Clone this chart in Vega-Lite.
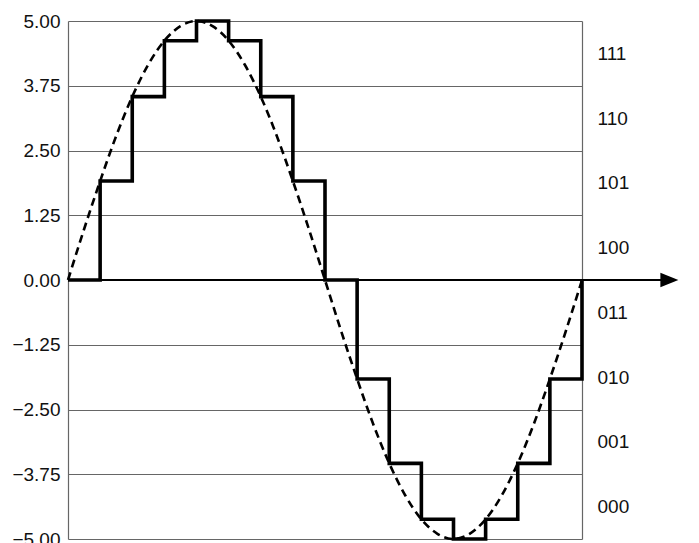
{
  "$schema": "https://vega.github.io/schema/vega-lite/v6.json",
  "width": 514,
  "height": 518,
  "autosize": {"type": "none"},
  "padding": {"left": 68, "top": 21, "right": 117, "bottom": 4},
  "background": "white",
  "config": {
    "view": {"stroke": null},
    "axis": {"labelFont": "Liberation Sans", "labelColor": "#111", "title": null}
  },
  "datasets": {
    "steps": [
      {"sample": 0, "level": 0},
      {"sample": 1, "level": 1.91},
      {"sample": 2, "level": 3.54},
      {"sample": 3, "level": 4.62},
      {"sample": 4, "level": 5},
      {"sample": 5, "level": 4.62},
      {"sample": 6, "level": 3.54},
      {"sample": 7, "level": 1.91},
      {"sample": 8, "level": 0},
      {"sample": 9, "level": -1.91},
      {"sample": 10, "level": -3.54},
      {"sample": 11, "level": -4.62},
      {"sample": 12, "level": -5},
      {"sample": 13, "level": -4.62},
      {"sample": 14, "level": -3.54},
      {"sample": 15, "level": -1.91},
      {"sample": 16, "level": 0}
    ],
    "wave": [
      {"t": 0, "v": 0}, {"t": 0.5, "v": 0.98}, {"t": 1, "v": 1.91}, {"t": 1.5, "v": 2.78},
      {"t": 2, "v": 3.54}, {"t": 2.5, "v": 4.16}, {"t": 3, "v": 4.62}, {"t": 3.5, "v": 4.9},
      {"t": 4, "v": 5}, {"t": 4.5, "v": 4.9}, {"t": 5, "v": 4.62}, {"t": 5.5, "v": 4.16},
      {"t": 6, "v": 3.54}, {"t": 6.5, "v": 2.78}, {"t": 7, "v": 1.91}, {"t": 7.5, "v": 0.98},
      {"t": 8, "v": 0}, {"t": 8.5, "v": -0.98}, {"t": 9, "v": -1.91}, {"t": 9.5, "v": -2.78},
      {"t": 10, "v": -3.54}, {"t": 10.5, "v": -4.16}, {"t": 11, "v": -4.62}, {"t": 11.5, "v": -4.9},
      {"t": 12, "v": -5}, {"t": 12.5, "v": -4.9}, {"t": 13, "v": -4.62}, {"t": 13.5, "v": -4.16},
      {"t": 14, "v": -3.54}, {"t": 14.5, "v": -2.78}, {"t": 15, "v": -1.91}, {"t": 15.5, "v": -0.98},
      {"t": 16, "v": 0}
    ]
  },
  "resolve": {"axis": {"y": "independent"}},
  "layer": [
    {
      "data": {"name": "wave"},
      "mark": {"type": "line", "interpolate": "monotone", "color": "black", "strokeWidth": 2.6, "strokeDash": [8, 5]},
      "encoding": {
        "x": {"field": "t", "type": "quantitative", "scale": {"domain": [0, 16], "nice": false}, "axis": null},
        "y": {
          "field": "v", "type": "quantitative",
          "scale": {"domain": [-5, 5], "nice": false, "zero": false},
          "axis": {
            "orient": "left",
            "values": [-5, -3.75, -2.5, -1.25, 0, 1.25, 2.5, 3.75, 5],
            "format": ".2f",
            "ticks": false,
            "labelPadding": 8,
            "labelFontSize": 19,
            "grid": true,
            "gridColor": "#666",
            "gridWidth": 1.2,
            "gridOpacity": 1,
            "domainColor": "#666",
            "domainWidth": 1.2
          }
        }
      }
    },
    {
      "data": {"values": [{}]},
      "mark": {"type": "rule", "color": "black", "strokeWidth": 2},
      "encoding": {
        "x": {"datum": 0, "type": "quantitative"},
        "x2": {"datum": 18.5},
        "y": {"datum": 0, "type": "quantitative", "axis": null}
      }
    },
    {
      "data": {"values": [{}]},
      "mark": {"type": "point", "shape": "M-1,-0.8L1,0L-1,0.8Z", "filled": true, "color": "black", "opacity": 1, "size": 324, "strokeWidth": 0},
      "encoding": {
        "x": {"datum": 18.72, "type": "quantitative"},
        "y": {"datum": 0, "type": "quantitative", "axis": null}
      }
    },
    {
      "data": {"name": "steps"},
      "mark": {"type": "line", "interpolate": "step-after", "color": "black", "strokeWidth": 3.6},
      "encoding": {
        "x": {"field": "sample", "type": "quantitative"},
        "y": {
          "field": "level", "type": "quantitative",
          "axis": {
            "orient": "right",
            "values": [4.375, 3.125, 1.875, 0.625, -0.625, -1.875, -3.125, -4.375],
            "labelExpr": "datum.value > 4 ? '111' : datum.value > 3 ? '110' : datum.value > 1.5 ? '101' : datum.value > 0 ? '100' : datum.value > -1 ? '011' : datum.value > -2 ? '010' : datum.value > -3.5 ? '001' : '000'",
            "ticks": false,
            "grid": false,
            "labelPadding": 15,
            "labelFontSize": 19,
            "domainColor": "#666",
            "domainWidth": 1.2
          }
        }
      }
    }
  ]
}
